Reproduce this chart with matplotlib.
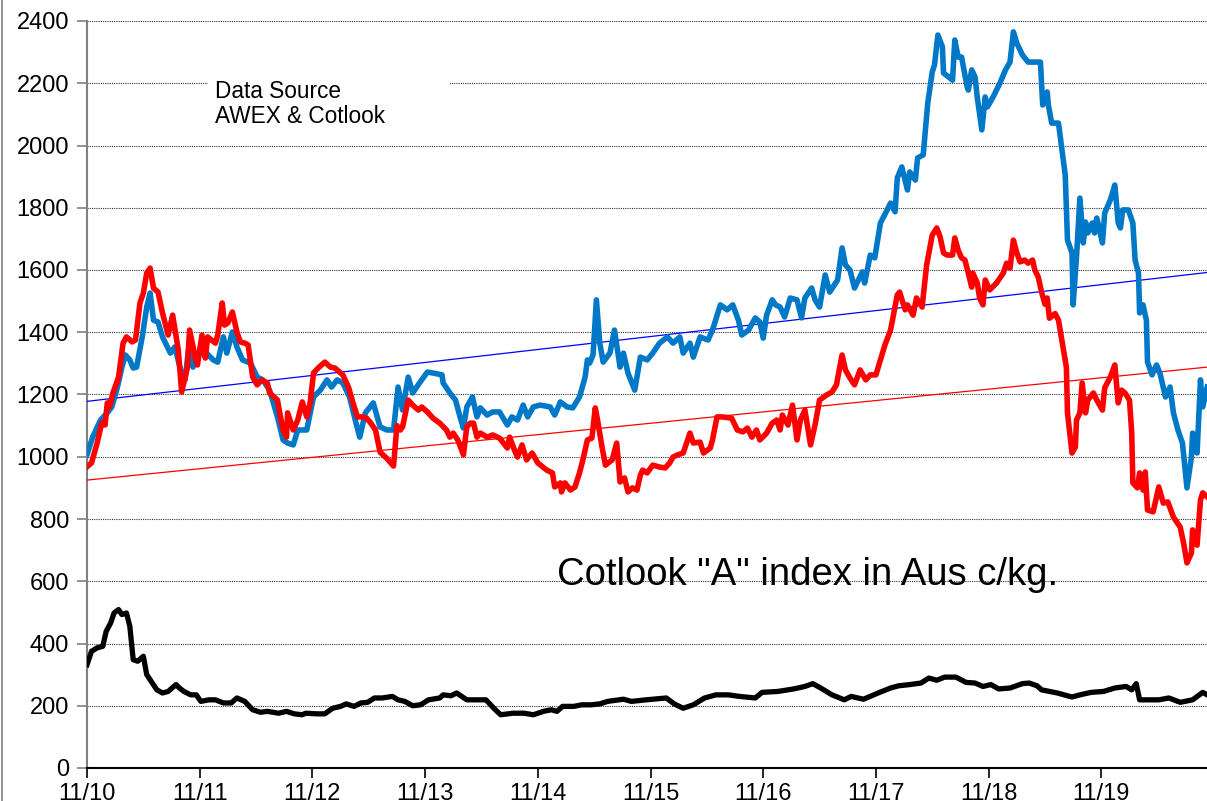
import matplotlib
matplotlib.use("Agg")
import matplotlib.pyplot as plt
from matplotlib.patches import Rectangle
from matplotlib.lines import Line2D

plt.rcParams['font.family'] = ['Liberation Sans', 'DejaVu Sans']

# time in years since Nov 2010
blue_t = [0.00, 0.05, 0.12, 0.18, 0.22, 0.27, 0.31, 0.34, 0.38, 0.41, 0.44, 0.49, 0.53, 0.56, 0.59,
          0.63, 0.67, 0.74, 0.78, 0.83, 0.87, 0.90, 0.94, 1.00, 1.06, 1.12, 1.16, 1.21, 1.24, 1.29,
          1.33, 1.38, 1.45, 1.51, 1.56, 1.62, 1.69, 1.74, 1.78, 1.83, 1.87, 1.95, 2.01, 2.07, 2.13,
          2.17, 2.22, 2.27, 2.33, 2.38, 2.42, 2.47, 2.54, 2.60, 2.66, 2.72, 2.76, 2.80, 2.85, 2.89,
          2.95, 3.02, 3.07, 3.15, 3.16, 3.22, 3.27, 3.31, 3.34, 3.37, 3.42, 3.46, 3.49, 3.55, 3.60,
          3.66, 3.73, 3.77, 3.82, 3.87, 3.91, 3.96, 4.02, 4.11, 4.15, 4.20, 4.26, 4.31, 4.37, 4.42,
          4.44, 4.46, 4.49, 4.52, 4.55, 4.58, 4.64, 4.68, 4.73, 4.76, 4.80, 4.86, 4.91, 4.97, 5.02,
          5.08, 5.15, 5.20, 5.26, 5.29, 5.35, 5.38, 5.44, 5.51, 5.55, 5.62, 5.68, 5.73, 5.78, 5.81,
          5.87, 5.93, 5.97, 6.00, 6.03, 6.08, 6.11, 6.15, 6.19, 6.24, 6.30, 6.34, 6.37, 6.43, 6.46,
          6.50, 6.55, 6.59, 6.66, 6.70, 6.73, 6.77, 6.81, 6.88, 6.90, 6.95, 6.99, 7.04, 7.10, 7.13,
          7.17, 7.19, 7.23, 7.28, 7.30, 7.35, 7.37, 7.42, 7.46, 7.50, 7.52, 7.55, 7.59, 7.60, 7.68,
          7.70, 7.73, 7.76, 7.81, 7.82, 7.85, 7.88, 7.90, 7.94, 7.97, 7.99, 8.04, 8.10, 8.15, 8.19,
          8.22, 8.25, 8.30, 8.35, 8.46, 8.48, 8.52, 8.53, 8.56, 8.62, 8.68, 8.70, 8.74, 8.75, 8.78,
          8.81, 8.84, 8.86, 8.88, 8.92, 8.94, 8.96, 9.01, 9.03, 9.08, 9.12, 9.15, 9.17, 9.19, 9.24,
          9.28, 9.30, 9.33, 9.34, 9.37, 9.40, 9.41, 9.45, 9.49, 9.52, 9.57, 9.61, 9.64, 9.68, 9.72,
          9.76, 9.80, 9.81, 9.85, 9.88, 9.90, 9.94]
blue_v = [1006, 1063, 1118, 1141, 1160, 1224, 1288, 1327, 1311, 1285, 1288, 1385, 1481, 1526, 1439,
          1433, 1385, 1333, 1353, 1279, 1247, 1343, 1288, 1333, 1333, 1311, 1304, 1385, 1333, 1401,
          1353, 1311, 1301, 1256, 1247, 1214, 1128, 1054, 1044, 1038, 1086, 1086, 1192, 1214, 1247,
          1224, 1247, 1237, 1192, 1118, 1063, 1141, 1173, 1096, 1086, 1086, 1224, 1150, 1256, 1205,
          1237, 1272, 1269, 1263, 1237, 1205, 1182, 1128, 1092, 1160, 1192, 1128, 1157, 1134, 1144,
          1144, 1102, 1128, 1118, 1166, 1128, 1160, 1166, 1160, 1134, 1176, 1160, 1157, 1192, 1256,
          1311, 1301, 1327, 1504, 1365, 1304, 1333, 1407, 1288, 1333, 1269, 1214, 1320, 1311, 1333,
          1365, 1385, 1365, 1385, 1333, 1365, 1320, 1385, 1375, 1407, 1488, 1472, 1488, 1439, 1391,
          1407, 1446, 1433, 1381, 1455, 1504, 1488, 1481, 1449, 1510, 1504, 1446, 1510, 1542, 1504,
          1481, 1584, 1529, 1568, 1671, 1616, 1600, 1542, 1594, 1558, 1648, 1639, 1751, 1793, 1815,
          1787, 1896, 1931, 1857, 1915, 1889, 1960, 1970, 2136, 2236, 2259, 2355, 2317, 2233, 2210,
          2339, 2284, 2284, 2188, 2178, 2243, 2220, 2153, 2050, 2156, 2124, 2156, 2200, 2243, 2268,
          2365, 2329, 2291, 2268, 2268, 2130, 2172, 2130, 2072, 2072, 1905, 1696, 1655, 1488, 1642,
          1831, 1687, 1754, 1719, 1751, 1719, 1767, 1687, 1783, 1825, 1873, 1751, 1735, 1793, 1793,
          1751, 1632, 1590, 1462, 1488, 1439, 1304, 1263, 1295, 1269, 1192, 1224, 1141, 1086, 1044,
          900, 1000, 1076, 1012, 1247, 1160, 1224]

red_t = [0.00, 0.04, 0.09, 0.13, 0.16, 0.18, 0.20, 0.23, 0.28, 0.32, 0.35, 0.40, 0.43, 0.47, 0.50,
         0.53, 0.56, 0.59, 0.63, 0.67, 0.72, 0.76, 0.81, 0.84, 0.89, 0.91, 0.96, 0.98, 1.02, 1.05,
         1.07, 1.14, 1.16, 1.20, 1.22, 1.25, 1.29, 1.33, 1.36, 1.40, 1.43, 1.47, 1.51, 1.55, 1.60,
         1.62, 1.69, 1.71, 1.74, 1.77, 1.78, 1.83, 1.87, 1.91, 1.95, 1.98, 2.01, 2.05, 2.11, 2.16,
         2.20, 2.27, 2.32, 2.36, 2.40, 2.44, 2.48, 2.51, 2.56, 2.60, 2.66, 2.72, 2.75, 2.78, 2.80,
         2.85, 2.89, 2.94, 2.97, 3.02, 3.07, 3.13, 3.19, 3.22, 3.25, 3.29, 3.34, 3.37, 3.40, 3.43,
         3.46, 3.49, 3.55, 3.60, 3.66, 3.73, 3.75, 3.80, 3.82, 3.86, 3.90, 3.95, 4.00, 4.08, 4.13,
         4.15, 4.20, 4.21, 4.24, 4.29, 4.33, 4.37, 4.40, 4.44, 4.48, 4.51, 4.53, 4.57, 4.60, 4.66,
         4.70, 4.73, 4.77, 4.80, 4.84, 4.88, 4.91, 4.93, 4.97, 5.02, 5.08, 5.13, 5.17, 5.20, 5.24,
         5.29, 5.35, 5.38, 5.44, 5.47, 5.53, 5.55, 5.59, 5.64, 5.72, 5.77, 5.82, 5.86, 5.90, 5.94,
         5.97, 6.03, 6.08, 6.12, 6.15, 6.17, 6.22, 6.26, 6.30, 6.33, 6.37, 6.42, 6.46, 6.50, 6.56,
         6.61, 6.65, 6.70, 6.73, 6.77, 6.81, 6.86, 6.91, 6.95, 7.00, 7.04, 7.08, 7.13, 7.19, 7.21,
         7.26, 7.28, 7.33, 7.36, 7.41, 7.45, 7.50, 7.54, 7.57, 7.60, 7.63, 7.68, 7.70, 7.73, 7.76,
         7.79, 7.82, 7.85, 7.86, 7.90, 7.92, 7.95, 7.97, 8.01, 8.07, 8.13, 8.16, 8.19, 8.22, 8.25,
         8.28, 8.32, 8.35, 8.39, 8.41, 8.44, 8.47, 8.50, 8.52, 8.54, 8.59, 8.62, 8.65, 8.69, 8.70,
         8.74, 8.77, 8.78, 8.81, 8.83, 8.86, 8.88, 8.93, 8.96, 9.01, 9.03, 9.08, 9.12, 9.15, 9.18,
         9.21, 9.25, 9.27, 9.28, 9.32, 9.34, 9.37, 9.39, 9.41, 9.46, 9.51, 9.55, 9.59, 9.64, 9.70,
         9.73, 9.76, 9.80, 9.81, 9.85, 9.88, 9.90, 9.94]
red_v = [968, 980, 1044, 1108, 1102, 1173, 1160, 1205, 1256, 1365, 1385, 1369, 1375, 1494, 1526,
         1590, 1606, 1542, 1529, 1462, 1391, 1455, 1343, 1208, 1285, 1407, 1320, 1295, 1391, 1317,
         1385, 1365, 1391, 1494, 1423, 1430, 1465, 1401, 1369, 1365, 1359, 1256, 1231, 1247, 1237,
         1205, 1182, 1141, 1086, 1063, 1141, 1086, 1118, 1176, 1128, 1173, 1269, 1285, 1304, 1288,
         1285, 1263, 1224, 1173, 1128, 1128, 1124, 1112, 1086, 1015, 995, 970, 1100, 1086, 1096,
         1182, 1166, 1150, 1160, 1144, 1124, 1108, 1086, 1063, 1076, 1054, 1006, 1096, 1108, 1108,
         1063, 1076, 1063, 1070, 1060, 1028, 1063, 1015, 999, 1038, 990, 1012, 980, 957, 948,
         903, 916, 887, 916, 893, 903, 948, 990, 1054, 1060, 1157, 1118, 1031, 973, 990,
         1044, 919, 932, 887, 900, 893, 941, 957, 948, 973, 967, 964, 980, 999, 1006,
         1012, 1076, 1044, 1047, 1012, 1028, 1054, 1128, 1128, 1124, 1086, 1080, 1092, 1063, 1086,
         1054, 1076, 1108, 1118, 1086, 1134, 1102, 1166, 1054, 1118, 1150, 1038, 1102, 1182, 1198,
         1208, 1231, 1327, 1279, 1253, 1231, 1279, 1247, 1263, 1263, 1311, 1359, 1407, 1520, 1529,
         1472, 1488, 1455, 1510, 1481, 1616, 1712, 1735, 1706, 1655, 1648, 1648, 1703, 1664, 1639,
         1632, 1590, 1545, 1590, 1558, 1510, 1488, 1568, 1536, 1558, 1590, 1622, 1606, 1696, 1655,
         1626, 1632, 1622, 1632, 1600, 1578, 1529, 1490, 1510, 1445, 1460, 1439, 1375, 1288, 1141,
         1012, 1031, 1118, 1141, 1237, 1141, 1182, 1205, 1182, 1150, 1221, 1256, 1295, 1173, 1214,
         1205, 1182, 1076, 916, 900, 948, 893, 951, 829, 823, 903, 851, 855, 806, 774,
         723, 659, 691, 765, 716, 861, 884, 871]

black_t = [0.00, 0.04, 0.09, 0.14, 0.17, 0.21, 0.24, 0.28, 0.31, 0.35, 0.38, 0.41, 0.45, 0.50, 0.53,
           0.58, 0.62, 0.67, 0.72, 0.79, 0.82, 0.86, 0.92, 0.97, 1.01, 1.08, 1.14, 1.21, 1.28, 1.33,
           1.40, 1.47, 1.54, 1.60, 1.70, 1.77, 1.84, 1.91, 1.94, 2.04, 2.11, 2.18, 2.25, 2.30, 2.37,
           2.43, 2.49, 2.55, 2.62, 2.71, 2.76, 2.82, 2.89, 2.96, 3.03, 3.13, 3.16, 3.23, 3.28, 3.37,
           3.47, 3.54, 3.61, 3.67, 3.78, 3.88, 3.96, 4.05, 4.12, 4.17, 4.22, 4.32, 4.39, 4.47, 4.55,
           4.62, 4.76, 4.83, 4.96, 5.14, 5.21, 5.29, 5.38, 5.48, 5.58, 5.69, 5.79, 5.93, 5.99, 6.13,
           6.27, 6.37, 6.44, 6.51, 6.61, 6.72, 6.78, 6.89, 7.02, 7.13, 7.20, 7.30, 7.40, 7.47, 7.54,
           7.61, 7.71, 7.80, 7.88, 7.95, 8.02, 8.09, 8.19, 8.30, 8.36, 8.43, 8.47, 8.61, 8.74, 8.81,
           8.91, 9.02, 9.12, 9.22, 9.27, 9.31, 9.34, 9.43, 9.51, 9.60, 9.70, 9.81, 9.90, 9.94]
black_v = [332, 375, 386, 391, 439, 466, 498, 509, 493, 498, 455, 348, 343, 359, 300,
           273, 251, 241, 246, 268, 257, 246, 235, 235, 214, 219, 219, 209, 209, 225,
           214, 187, 179, 182, 176, 182, 174, 171, 176, 174, 174, 192, 198, 206, 198,
           209, 211, 225, 225, 230, 219, 214, 200, 203, 219, 225, 235, 232, 241, 219,
           219, 219, 192, 171, 176, 176, 171, 182, 187, 182, 198, 198, 203, 203, 206,
           214, 221, 214, 219, 225, 206, 192, 203, 225, 235, 235, 230, 225, 243, 246,
           254, 262, 271, 257, 235, 219, 230, 221, 241, 257, 264, 268, 273, 289, 282,
           292, 292, 275, 273, 262, 268, 254, 257, 271, 273, 264, 251, 241, 228, 235,
           243, 246, 257, 262, 251, 271, 219, 219, 219, 225, 211, 219, 243, 235]

# linear trend lines (end points)
trend_t = [0.0, 9.94]
blue_trend = [1178, 1592]
red_trend = [925, 1288]

x_ticks = list(range(10))
x_labels = ['11/10', '11/11', '11/12', '11/13', '11/14', '11/15', '11/16', '11/17', '11/18', '11/19']
y_ticks = list(range(0, 2401, 200))

fig = plt.figure(figsize=(12.07, 8.01), dpi=100)
ax = fig.add_axes([87/1207, 33/801, 1120/1207, 747/801])

ax.plot(trend_t, blue_trend, color='#0000FF', lw=0.9, zorder=3)
ax.plot(trend_t, red_trend, color='#FF0000', lw=0.9, zorder=3)
ax.plot(black_t, black_v, color='black', lw=3.8, zorder=4, solid_joinstyle='round')
ax.plot(blue_t, blue_v, color='#0078C8', lw=4.0, zorder=4, solid_joinstyle='round')
ax.plot(red_t, red_v, color='#FF0000', lw=4.0, zorder=5, solid_joinstyle='round')

ax.set_xlim(0, 1120/112.7)
ax.set_ylim(0, 2400)
ax.set_xticks(x_ticks)
ax.set_xticklabels(x_labels)
ax.set_yticks(y_ticks)
ax.tick_params(axis='both', labelsize=17, length=7, width=1.2, direction='out')
ax.tick_params(axis='y', colors='#808080', labelcolor='black', pad=6)
ax.tick_params(axis='x', colors='black', pad=4)
ax.yaxis.grid(True, linestyle=(0, (1, 1)), color='#333333', lw=0.8)
ax.set_axisbelow(True)
for s in ['top', 'right']:
    ax.spines[s].set_visible(False)
ax.spines['left'].set_color('#808080')
ax.spines['left'].set_linewidth(1.5)
ax.spines['bottom'].set_color('black')
ax.spines['bottom'].set_linewidth(1.5)

# white text box behind the source note
ax.add_patch(Rectangle((1.07, 2100), 2.15, 160, facecolor='white', edgecolor='none', zorder=2))
ax.text(1.14, 2153, 'Data Source', fontsize=16.3, va='baseline', zorder=6)
ax.text(1.14, 2072, 'AWEX & Cotlook', fontsize=16.3, va='baseline', zorder=6)
ax.text(4.17, 588, 'Cotlook "A" index in Aus c/kg.', fontsize=27.5, va='baseline', zorder=6)

fig.add_artist(Line2D([2/1207, 2/1207], [0, 1], color='#808080', lw=1.2))

fig.savefig('out.png', dpi=100)
